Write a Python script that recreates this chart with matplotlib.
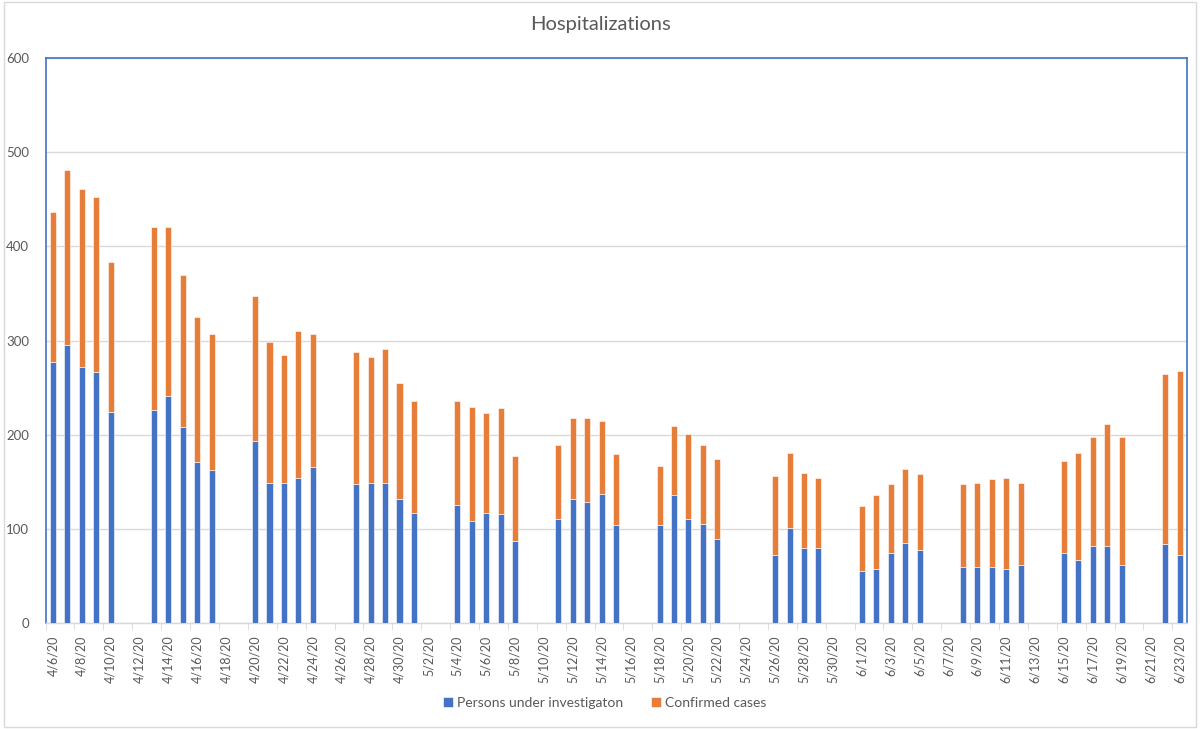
import pandas as pd
import matplotlib.pyplot as plt
from matplotlib.patches import Rectangle

# days with data (weekends / holidays have no bar)
dates = ["4/6/20", "4/7/20", "4/8/20", "4/9/20", "4/10/20",
         "4/13/20", "4/14/20", "4/15/20", "4/16/20", "4/17/20",
         "4/20/20", "4/21/20", "4/22/20", "4/23/20", "4/24/20",
         "4/27/20", "4/28/20", "4/29/20", "4/30/20", "5/1/20",
         "5/4/20", "5/5/20", "5/6/20", "5/7/20", "5/8/20",
         "5/11/20", "5/12/20", "5/13/20", "5/14/20", "5/15/20",
         "5/18/20", "5/19/20", "5/20/20", "5/21/20", "5/22/20",
         "5/26/20", "5/27/20", "5/28/20", "5/29/20",
         "6/1/20", "6/2/20", "6/3/20", "6/4/20", "6/5/20",
         "6/8/20", "6/9/20", "6/10/20", "6/11/20", "6/12/20",
         "6/15/20", "6/16/20", "6/17/20", "6/18/20", "6/19/20",
         "6/22/20", "6/23/20"]
pui = [277, 295, 272, 267, 224,
       226, 241, 208, 171, 163,
       193, 149, 149, 154, 166,
       148, 149, 149, 132, 117,
       125, 108, 117, 116, 87,
       110, 132, 129, 137, 104,
       104, 136, 110, 105, 89,
       72, 101, 80, 80,
       55, 57, 74, 85, 77,
       60, 60, 59, 57, 62,
       74, 67, 82, 82, 62,
       84, 72]
confirmed = [160, 186, 189, 185, 159,
             195, 180, 162, 154, 144,
             154, 149, 136, 156, 141,
             140, 134, 142, 123, 119,
             111, 121, 106, 112, 90,
             79, 86, 89, 77, 75,
             63, 73, 91, 84, 85,
             84, 80, 79, 74,
             69, 79, 74, 79, 81,
             88, 89, 94, 97, 87,
             98, 114, 116, 129, 136,
             180, 196]

BLUE = "#4472C4"
ORANGE = "#E67E3A"
GREY = "#595959"

all_days = pd.date_range("2020-04-06", "2020-06-23", freq="D")
day_labels = [f"{d.month}/{d.day}/20" for d in all_days]
pos = [day_labels.index(d) for d in dates]

plt.rcParams['font.family'] = ['Lato', 'DejaVu Sans']

fig = plt.figure(figsize=(12, 7.29), dpi=100)
ax = fig.add_axes([0.038, 0.1454, 0.951, 0.775])

ax.bar(pos, pui, width=0.42, color=BLUE, edgecolor="white", linewidth=0.4,
       label="Persons under investigaton", zorder=3)
ax.bar(pos, confirmed, width=0.42, bottom=pui, color=ORANGE, edgecolor="white",
       linewidth=0.4, label="Confirmed cases", zorder=3)

ax.set_xlim(-0.5, len(all_days) - 0.5)
ax.set_ylim(0, 600)
ax.set_yticks(range(0, 601, 100))
ax.yaxis.grid(True, color="#D9D9D9", linewidth=1, zorder=0)
ax.tick_params(axis="y", length=0, labelsize=9.5, labelcolor=GREY, pad=12)

ax.set_xticks(range(0, len(all_days), 2))
ax.set_xticklabels(day_labels[::2], rotation=90)
ax.set_xticks([i - 0.5 for i in range(0, len(all_days) + 1, 2)], minor=True)
ax.tick_params(axis="x", which="major", length=0, labelsize=9,
               labelcolor=GREY, pad=9)
ax.tick_params(axis="x", which="minor", length=5, color="#D9D9D9")

for side in ["left", "top", "right"]:
    ax.spines[side].set_color(BLUE)
    ax.spines[side].set_linewidth(1.2)
ax.spines["bottom"].set_color("#D9D9D9")
ax.spines["bottom"].set_linewidth(1)

fig.suptitle("Hospitalizations", y=0.966, va="center", fontsize=14.5, color=GREY)
fig.legend(loc="center", bbox_to_anchor=(0.504, 0.036), ncol=2, frameon=False,
           fontsize=10, labelcolor=GREY, handlelength=0.7, handleheight=0.7,
           handletextpad=0.3, columnspacing=2.0)

fig.patches.append(Rectangle((0.003, 0.003), 0.994, 0.994, transform=fig.transFigure,
                             fill=False, edgecolor="#D9D9D9", linewidth=1))

fig.savefig("out.png")
